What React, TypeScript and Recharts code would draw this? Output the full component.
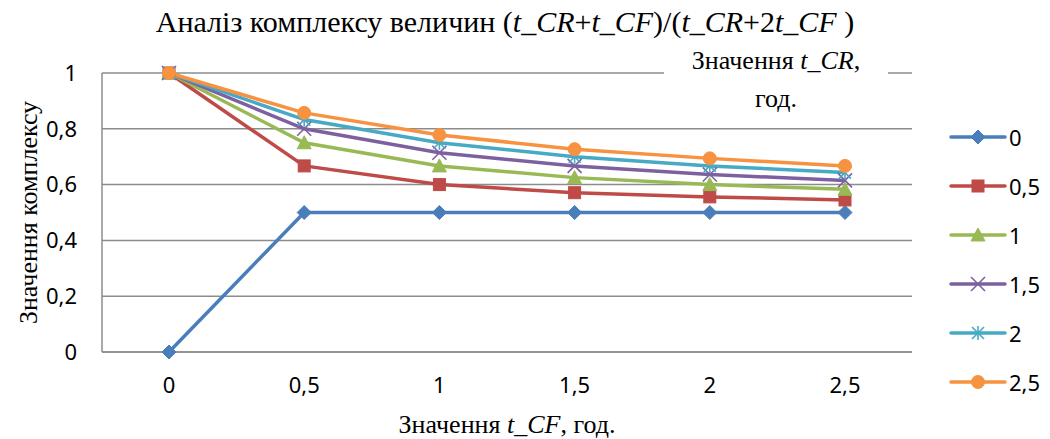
import React from "react";
import { CartesianGrid, Line, LineChart, XAxis, YAxis } from "recharts";

// t_CF values along the x axis
const cfLabels = ["0", "0,5", "1", "1,5", "2", "2,5"];

// one row of complex values per t_CR level
const cr0 = [0, 0.5, 0.5, 0.5, 0.5, 0.5];
const cr05 = [1, 0.667, 0.6, 0.571, 0.556, 0.545];
const cr1 = [1, 0.75, 0.667, 0.625, 0.6, 0.583];
const cr15 = [1, 0.8, 0.714, 0.667, 0.636, 0.615];
const cr2 = [1, 0.833, 0.75, 0.7, 0.667, 0.643];
const cr25 = [1, 0.857, 0.778, 0.727, 0.694, 0.667];

const yTicks = [0, 0.2, 0.4, 0.6, 0.8, 1];

type Shape = "diamond" | "square" | "triangle" | "x" | "star" | "circle";

const series: { key: string; name: string; values: number[]; color: string; shape: Shape }[] = [
  { key: "s0", name: "0", values: cr0, color: "#4A7EBB", shape: "diamond" },
  { key: "s05", name: "0,5", values: cr05, color: "#BE4B48", shape: "square" },
  { key: "s1", name: "1", values: cr1, color: "#98B954", shape: "triangle" },
  { key: "s15", name: "1,5", values: cr15, color: "#7D60A0", shape: "x" },
  { key: "s2", name: "2", values: cr2, color: "#46AAC5", shape: "star" },
  { key: "s25", name: "2,5", values: cr25, color: "#F69240", shape: "circle" },
];

const data = cfLabels.map((cf, i) => {
  const row: Record<string, string | number> = { cf };
  series.forEach((s) => {
    row[s.key] = s.values[i];
  });
  return row;
});

const sansFont = "'Noto Sans', 'Open Sans', sans-serif";
const serifFont = "'Liberation Serif', 'Times New Roman', Times, 'DejaVu Serif', serif";

function Marker({ cx, cy, color, shape }: { cx: number; cy: number; color: string; shape: Shape }) {
  switch (shape) {
    case "diamond":
      return <path d={`M${cx},${cy - 7} L${cx + 7},${cy} L${cx},${cy + 7} L${cx - 7},${cy} Z`} fill={color} stroke={color} />;
    case "square":
      return <rect x={cx - 6} y={cy - 6} width={12} height={12} fill={color} stroke={color} />;
    case "triangle":
      return <path d={`M${cx},${cy - 7} L${cx + 7},${cy + 6} L${cx - 7},${cy + 6} Z`} fill={color} stroke={color} />;
    case "x":
      return (
        <g stroke={color} strokeWidth={1.6}>
          <line x1={cx - 7} y1={cy - 7} x2={cx + 7} y2={cy + 7} />
          <line x1={cx - 7} y1={cy + 7} x2={cx + 7} y2={cy - 7} />
        </g>
      );
    case "star":
      return (
        <g stroke={color} strokeWidth={1.6}>
          <line x1={cx - 6} y1={cy - 6} x2={cx + 6} y2={cy + 6} />
          <line x1={cx - 6} y1={cy + 6} x2={cx + 6} y2={cy - 6} />
          <line x1={cx} y1={cy - 7} x2={cx} y2={cy + 7} />
        </g>
      );
    default:
      return <circle cx={cx} cy={cy} r={6.5} fill={color} stroke={color} />;
  }
}

function LegendBox() {
  return (
    <div style={{ position: "absolute", left: 948, top: 112 }}>
      {series.map((s) => (
        <div key={s.key} style={{ display: "flex", alignItems: "center", height: 49 }}>
          <svg width={60} height={20}>
            <line x1={3} y1={10} x2={57} y2={10} stroke={s.color} strokeWidth={3.5} strokeLinecap="round" />
            <Marker cx={30} cy={10} color={s.color} shape={s.shape} />
          </svg>
          <span style={{ fontFamily: sansFont, fontSize: 22, color: "#000", marginLeft: 1 }}>{s.name}</span>
        </div>
      ))}
    </div>
  );
}

// axis title with the variable name set in italics
function XTitle({ viewBox }: any) {
  const cx = viewBox.x + viewBox.width / 2;
  return (
    <text x={cx} y={433} textAnchor="middle" fill="#000" fontSize={26} fontFamily={serifFont}>
      Значення <tspan fontStyle="italic">t_CF</tspan>, год.
    </text>
  );
}

const it = { fontStyle: "italic" as const };

export default function App() {
  return (
    <div style={{ position: "absolute", left: 0, top: 0, width: 1050, height: 439, background: "#fff" }}>
      <LineChart width={1050} height={439} data={data} margin={{ top: 73, right: 138, bottom: 47, left: 32 }}>
        <CartesianGrid vertical={false} stroke="#8c8c8c" strokeWidth={1.5} />
        <XAxis
          dataKey="cf"
          height={40}
          padding={{ left: 67, right: 67 }}
          tickSize={0}
          tickMargin={25}
          axisLine={{ stroke: "#8c8c8c", strokeWidth: 1.5 }}
          tick={{ fill: "#000", fontSize: 22, fontFamily: sansFont }}
          label={<XTitle />}
        />
        <YAxis
          width={70}
          domain={[0, 1]}
          ticks={yTicks}
          interval={0}
          tickSize={0}
          tickMargin={25}
          axisLine={{ stroke: "#8c8c8c", strokeWidth: 1.5 }}
          tickFormatter={(v: number) => String(v).replace(".", ",")}
          tick={{ fill: "#000", fontSize: 22, fontFamily: sansFont }}
          label={{
            value: "Значення комплексу",
            angle: -90,
            position: "center",
            dx: -39,
            style: { fill: "#000", fontSize: 26, fontFamily: serifFont, textAnchor: "middle" },
          }}
        />
        {series.map((s) => (
          <Line
            key={s.key}
            dataKey={s.key}
            name={s.name}
            stroke={s.color}
            strokeWidth={3.5}
            isAnimationActive={false}
            dot={(p: any) => <Marker key={`${s.key}-${p.index}`} cx={p.cx} cy={p.cy} color={s.color} shape={s.shape} />}
            activeDot={false}
          />
        ))}
      </LineChart>
      <LegendBox />
      <div
        style={{
          position: "absolute",
          left: 0,
          top: 5,
          width: 1010,
          textAlign: "center",
          fontFamily: serifFont,
          fontSize: 30,
          color: "#000",
          whiteSpace: "nowrap",
        }}
      >
        Аналіз комплексу величин (<span style={it}>t_CR</span>+<span style={it}>t_CF</span>)/(<span style={it}>t_CR</span>+2<span style={it}>t_CF</span> )
      </div>
      <div
        style={{
          position: "absolute",
          left: 664,
          top: 42,
          width: 224,
          height: 74,
          background: "#fff",
          textAlign: "center",
          fontFamily: serifFont,
          fontSize: 26,
          lineHeight: "38px",
          color: "#000",
        }}
      >
        Значення <span style={it}>t_CR</span>,
        <br />
        год.
      </div>
    </div>
  );
}
